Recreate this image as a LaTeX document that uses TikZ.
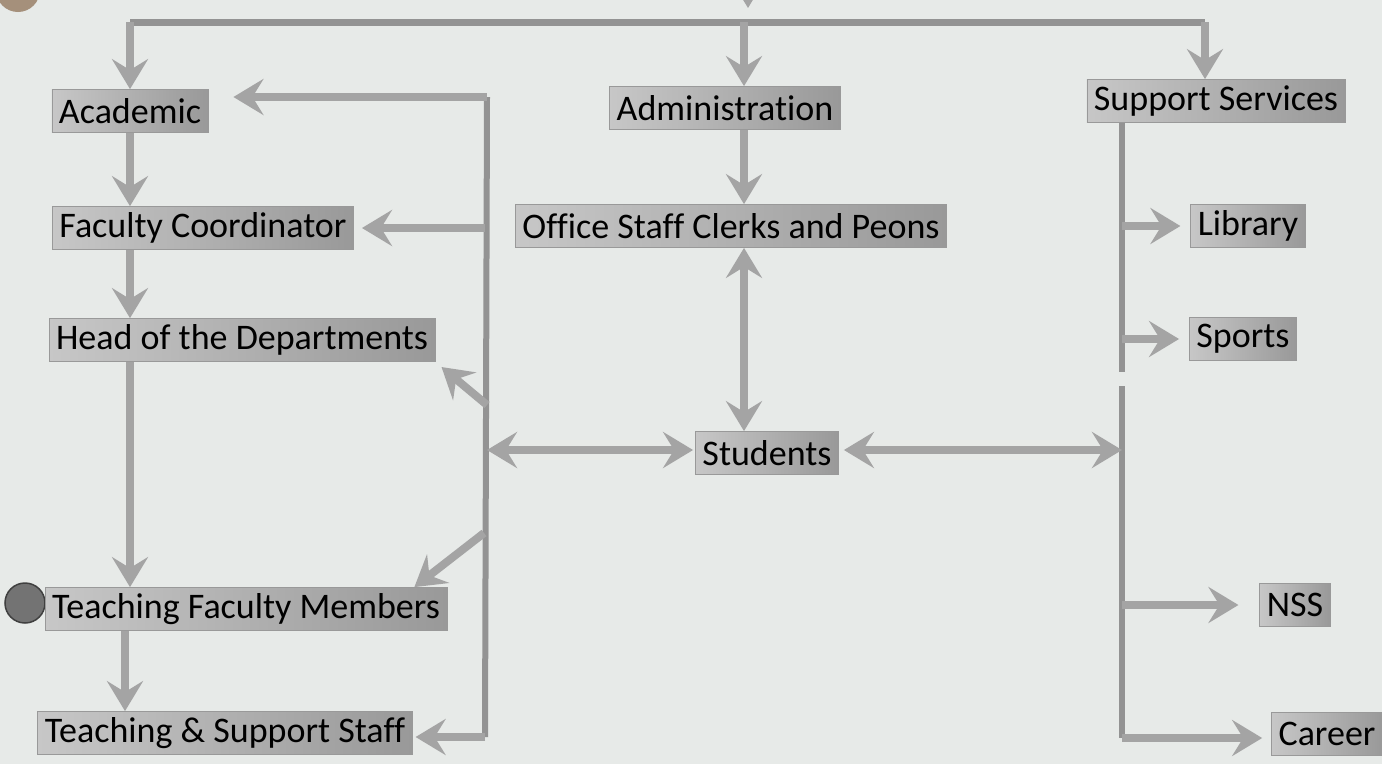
\documentclass[tikz,border=0pt]{standalone}
\usepackage{fontspec}
\setmainfont{Carlito}[Ligatures=NoCommon]
\usetikzlibrary{arrows.meta}

\definecolor{paper}{HTML}{E7EAE8}
\definecolor{arrowgray}{HTML}{A4A4A4}
\definecolor{busgray}{HTML}{939393}

\tikzstyle{bx}=[rectangle,minimum height=43pt,inner xsep=7pt,inner ysep=0pt,left color=black!22,right color=black!40,draw=black!40,line width=0.8pt,text=black,font=\fontsize{36}{40}\selectfont,anchor=center]
\tikzstyle{eL}=[line width=6pt,draw=busgray]
\tikzstyle{eA}=[line width=8pt,draw=arrowgray,-{Stealth[length=30pt,width=36pt,inset=11pt]}]
\tikzstyle{eD}=[line width=8pt,draw=arrowgray,{Stealth[length=30pt,width=36pt,inset=11pt]}-{Stealth[length=30pt,width=36pt,inset=11pt]}]

\begin{document}
\begin{tikzpicture}[x=1pt,y=-1pt]
    \clip (0,0) rectangle (1382,764);
    \fill[paper] (0,0) rectangle (1382,764);
    \fill[black!45!brown!60] (18,-10) circle (22);
    \draw[line width=1.5pt,draw=black!75,fill=black!55] (25,603) circle (20);

    \draw (130,111) node[bx] (acad) {Academic};
    \draw (203,228) node[bx] (fc) {Faculty Coordinator};
    \draw (242,340) node[bx] (hod) {Head of the Departments};
    \draw (246,609) node[bx] (tfm) {Teaching Faculty Members};
    \draw (225,733) node[bx] (tss) {Teaching \& Support Staff};
    \draw (725,108) node[bx] (admin) {Administration};
    \draw (731,226) node[bx] (osc) {Office Staff Clerks and Peons};
    \draw (767,453) node[bx] (stu) {Students};
    \draw (1216,101) node[bx] (ss) {Support Services};
    \draw (1248,226) node[bx] (lib) {Library};
    \draw (1243,339) node[bx] (spo) {Sports};
    \draw (1295,605) node[bx] (nss) {NSS};
    \draw (1327,734) node[bx] (car) {Career};

    \coordinate (colL) at (130,0);
    \coordinate (colT) at (125,0);
    \coordinate (colM) at (744,0);
    \coordinate (colS) at (1205,0);
    \coordinate (colR) at (1122,0);
    \coordinate (tb) at (748,22);
    \coordinate (top) at (748,-40);
    \coordinate (lbT) at (487,97);
    \coordinate (lbB) at (485,737);
    \coordinate (lbH) at (487,405);
    \coordinate (lbS) at (487,450);
    \coordinate (lbF) at (484,533);
    \coordinate (rbG) at (1122,372);
    \coordinate (rbH) at (1122,386);
    \coordinate (rbB) at (1122,738);

    \draw[eL,line width=7pt] (colL |- tb) -- (colS |- tb);
    \draw[eL] (lbT) -- (lbB);
    \draw[eL] (colR |- ss.south) -- (rbG);
    \draw[eL] (rbH) -- (rbB);

    \path
        (top) edge[eA,shorten >=14pt] (tb)
        (colL |- tb) edge[eA] (colL |- acad.north)
        (colM |- tb) edge[eA] (colM |- admin.north)
        (colS |- tb) edge[eA] (colS |- ss.north)
        (colL |- acad.south) edge[eA] (colL |- fc.north)
        (colL |- fc.south) edge[eA] (colL |- hod.north)
        (colL |- hod.south) edge[eA] (colL |- tfm.north)
        (colT |- tfm.south) edge[eA] (colT |- tss.north)
        (colM |- admin.south) edge[eA] (colM |- osc.north)
        (colM |- osc.south) edge[eD] (colM |- stu.north)
        (lbT) edge[eA,shorten >=25pt] (acad.east |- lbT)
        (lbB |- fc) edge[eA,shorten >=8pt] (fc.east)
        (lbH) edge[eA,shorten >=8pt] (hod.south east)
        (lbS) edge[eD,shorten >=2pt] (stu.west |- lbS)
        (lbF) edge[eA] ([xshift=-33pt]tfm.north east)
        (lbB) edge[eA,shorten >=3pt] (tss.east |- lbB)
        (stu.east |- lbS) edge[eD,shorten <=5pt] (colR |- lbS)
        (colR |- lib) edge[eA,shorten >=10pt] (lib.west)
        (colR |- spo) edge[eA,shorten >=10pt] (spo.west)
        (colR |- nss) edge[eA,shorten >=21pt] (nss.west)
        (rbB) edge[eA,shorten >=9pt] (car.west |- rbB)
    ;
\end{tikzpicture}
\end{document}
